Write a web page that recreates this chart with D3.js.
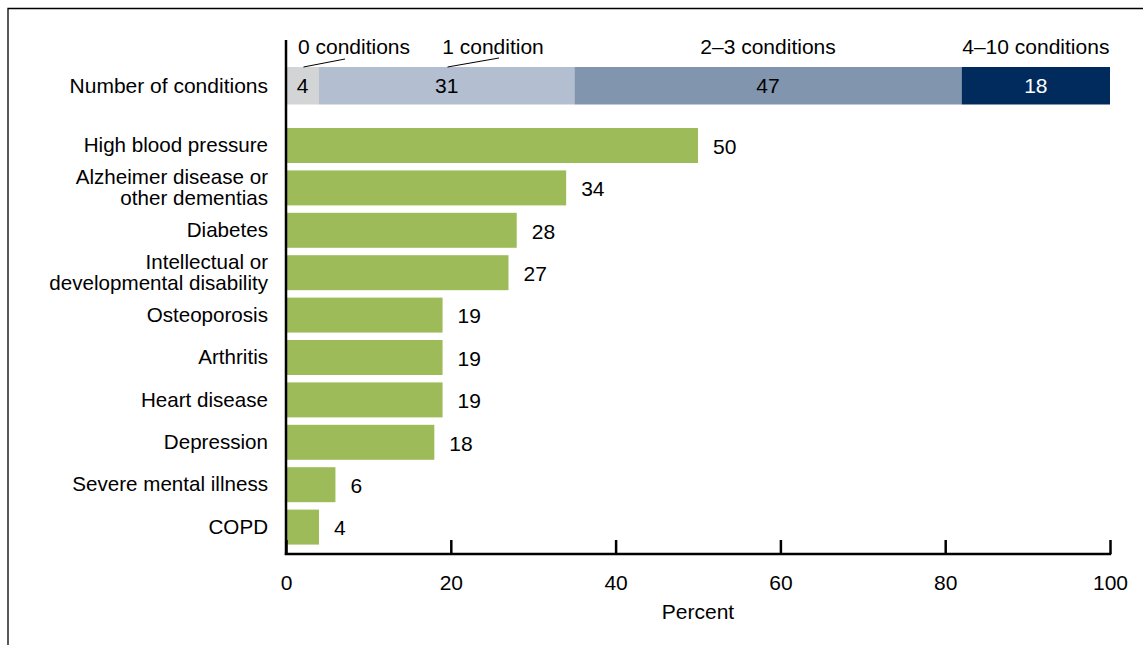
<!DOCTYPE html>
<html><head><meta charset="utf-8">
<script src="https://cdn.jsdelivr.net/npm/d3@7"></script>
<style>
body{margin:0;background:#fff;}
text{font-family:"Liberation Sans",Arial,sans-serif;fill:#000;}
</style></head>
<body><svg id="c" width="1143" height="645"></svg>
<script>
const stackLabels = ["0 conditions","1 condition","2\u20133 conditions","4\u201310 conditions"];
const stackValues = [4, 31, 47, 18];
const stackColors = ["#d3d4d6","#b3bfd0","#8195ae","#002b5c"];
const stackTextColors = ["#000","#000","#000","#fff"];
const conditions = [["High blood pressure"],["Alzheimer disease or","other dementias"],["Diabetes"],["Intellectual or","developmental disability"],["Osteoporosis"],["Arthritis"],["Heart disease"],["Depression"],["Severe mental illness"],["COPD"]];
const values = [50, 34, 28, 27, 19, 19, 19, 18, 6, 4];
const ticks = [0, 20, 40, 60, 80, 100];

const svg = d3.select("#c");
const fs = 21;
const fsC = 20.6;
// frame
svg.append("path").attr("d","M8,645V8.5H1143").attr("fill","none").attr("stroke","#000").attr("stroke-width",1.3);

const x = d3.scaleLinear().domain([0,100]).range([286,1110]);
const y = d3.scaleBand().domain(d3.range(values.length)).range([124.3,548.3]).paddingInner(0.175).paddingOuter(0.0875);

// stacked bar
const sTop = 67, sH = 37.5;
let cum = 0;
const segs = stackValues.map((v,i)=>{const s={i,v,x0:cum,x1:cum+v};cum+=v;return s;});
svg.selectAll("rect.s").data(segs).join("rect")
  .attr("x",d=>x(d.x0)).attr("width",d=>x(d.x1)-x(d.x0))
  .attr("y",sTop).attr("height",sH).attr("fill",d=>stackColors[d.i]);
svg.selectAll("text.sv").data(segs).join("text")
  .attr("x",d=>x((d.x0+d.x1)/2)).attr("y",sTop+sH/2).attr("dy","0.35em")
  .attr("text-anchor","middle").attr("font-size",fs).style("fill",d=>stackTextColors[d.i]).text(d=>d.v);
// category labels
const labelX = [354, 493, null, null];
svg.selectAll("text.sl").data(segs).join("text")
  .attr("x",d=>labelX[d.i]!==null?labelX[d.i]:x((d.x0+d.x1)/2)).attr("y",54)
  .attr("text-anchor","middle").attr("font-size",fs).text(d=>stackLabels[d.i]);
// leader lines
const leaders = [[x(2)+1,sTop,345,59],[x(19.6),sTop,499,58]];
svg.selectAll("line.ld").data(leaders).join("line")
  .attr("x1",d=>d[0]).attr("y1",d=>d[1]).attr("x2",d=>d[2]).attr("y2",d=>d[3])
  .attr("stroke","#000").attr("stroke-width",1);
svg.append("text").attr("x",268).attr("y",sTop+sH/2).attr("dy","0.35em").attr("text-anchor","end").attr("font-size",fs).text("Number of conditions");

// green bars
svg.selectAll("rect.b").data(values).join("rect")
  .attr("x",x(0)).attr("y",(d,i)=>y(i)).attr("width",d=>x(d)-x(0)).attr("height",y.bandwidth()).attr("fill","#9dbb59");
svg.selectAll("text.bv").data(values).join("text")
  .attr("x",d=>x(d)+15).attr("y",(d,i)=>y(i)+y.bandwidth()/2+1).attr("dy","0.35em")
  .attr("font-size",fs).text(d=>d);
// category text
const ct = svg.selectAll("text.c").data(conditions).join("text")
  .attr("text-anchor","end").attr("font-size",fsC)
  .attr("transform",(d,i)=>`translate(268,${y(i)+y.bandwidth()/2-0.5})`);
ct.each(function(d){
  const t=d3.select(this);
  const n=d.length;
  d.forEach((s,j)=>{t.append("tspan").attr("x",0).attr("y",(j-(n-1)/2)*21.3).attr("dy","0.35em").text(s);});
});

// axes
svg.append("line").attr("x1",x(0)).attr("x2",x(0)).attr("y1",40).attr("y2",555).attr("stroke","#000").attr("stroke-width",2.5);
const xa = d3.axisBottom(x).tickValues(ticks).tickSize(-14).tickSizeOuter(0).tickPadding(21);
const g = svg.append("g").attr("transform","translate(0,554)").call(xa);
g.select(".domain").attr("stroke","#000").attr("stroke-width",2.5).attr("d",`M${x(0)-1.2},0H${x(100)+1.2}`);
g.selectAll(".tick line").attr("stroke","#000").attr("stroke-width",2.5);
g.selectAll(".tick text").attr("font-size",fs).attr("font-family","Liberation Sans, Arial, sans-serif").style("fill","#000");
svg.append("text").attr("x",698).attr("y",612).attr("dy","0.35em").attr("text-anchor","middle").attr("font-size",fs).text("Percent");
</script></body></html>
